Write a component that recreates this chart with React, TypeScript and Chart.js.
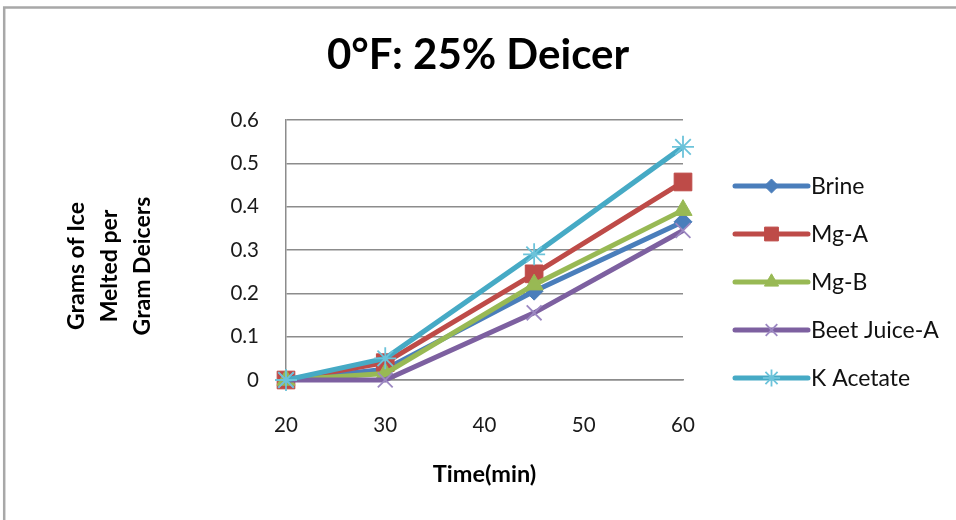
import React, { useEffect, useRef } from "react";
import { Chart, registerables } from "chart.js";
import { drawPoint } from "chart.js/helpers";

Chart.register(...registerables);

const timeMinutes = [20, 30, 45, 60];
const brine = [0, 0.025, 0.205, 0.365];
const mgA = [0, 0.04, 0.245, 0.457];
const mgB = [0, 0.015, 0.22, 0.392];
const beetJuiceA = [0, 0, 0.155, 0.345];
const kAcetate = [0, 0.05, 0.29, 0.538];

const seriesNames = ["Brine", "Mg-A", "Mg-B", "Beet Juice-A", "K Acetate"];
const seriesValues = [brine, mgA, mgB, beetJuiceA, kAcetate];
const seriesColors = ["#4A7EBB", "#BE4B48", "#98B954", "#7D60A0", "#46AAC5"];
const markerColors = ["#4A7EBB", "#BE4B48", "#98B954", "#9C88C2", "#6CC3DA"];
const markerStyles = ["rectRot", "rect", "triangle", "crossRot", "star"];
const markerRadii = [9, 12.5, 10.5, 10.5, 11];

const yTicks = [0, 0.1, 0.2, 0.3, 0.4, 0.5, 0.6];
const yTickLabels = ["0", "0.1", "0.2", "0.3", "0.4", "0.5", "0.6"];
const xTicks = [20, 30, 40, 50, 60];
const xTickLabels = ["20", "30", "40", "50", "60"];

const chartTitle = "0\u00B0F: 25% Deicer";
const xTitle = "Time(min)";
const yTitle = ["Grams of Ice", "Melted per", "Gram Deicers"];

const FONT = "Lato";

const borderPlugin = {
  id: "outerBorder",
  beforeDraw(chart: any) {
    const ctx = chart.ctx;
    ctx.save();
    ctx.fillStyle = "#ffffff";
    ctx.fillRect(0, 0, chart.width, chart.height);
    ctx.strokeStyle = "#a8a8a8";
    ctx.lineWidth = 2.5;
    ctx.strokeRect(4.2, 7.5, chart.width + 20, chart.height + 20);
    ctx.restore();
  },
};

const yTitlePlugin = {
  id: "yTitleBlock",
  afterDraw(chart: any) {
    const ctx = chart.ctx;
    const xs = [77, 110, 143];
    const cy = 266;
    ctx.save();
    ctx.fillStyle = "#000000";
    ctx.font = `bold 23px ${FONT}`;
    ctx.textAlign = "center";
    ctx.textBaseline = "middle";
    yTitle.forEach((line, i) => {
      ctx.save();
      ctx.translate(xs[i], cy);
      ctx.rotate(-Math.PI / 2);
      ctx.fillText(line, 0, 0);
      ctx.restore();
    });
    ctx.restore();
  },
};

const legendPlugin = {
  id: "lineLegend",
  afterDraw(chart: any) {
    const ctx = chart.ctx;
    const x0 = 735;
    const x1 = 808;
    const textX = 811;
    const yStart = 186;
    const step = 48;
    ctx.save();
    chart.data.datasets.forEach((ds: any, i: number) => {
      const y = yStart + i * step;
      ctx.strokeStyle = ds.borderColor;
      ctx.lineWidth = ds.borderWidth;
      ctx.lineCap = "round";
      ctx.beginPath();
      ctx.moveTo(x0, y);
      ctx.lineTo(x1, y);
      ctx.stroke();
      ctx.lineCap = "butt";
      ctx.fillStyle = ds.pointBackgroundColor;
      ctx.strokeStyle = ds.pointBorderColor;
      ctx.lineWidth = ds.pointBorderWidth;
      drawPoint(
        ctx,
        {
          pointStyle: ds.pointStyle,
          radius: ds.pointRadius * 0.78,
          rotation: 0,
          borderWidth: ds.pointBorderWidth,
        } as any,
        (x0 + x1) / 2,
        y
      );
      ctx.fillStyle = "#111111";
      ctx.font = `23px ${FONT}`;
      ctx.textBaseline = "middle";
      ctx.textAlign = "left";
      ctx.fillText(ds.label, textX, y + 1);
    });
    ctx.restore();
  },
};

export default function App() {
  const canvasRef = useRef<HTMLCanvasElement | null>(null);

  useEffect(() => {
    const canvas = canvasRef.current;
    if (!canvas) return;
    const datasets = seriesNames.map((name, i) => ({
      label: name,
      data: timeMinutes.map((t, j) => ({ x: t, y: seriesValues[i][j] })),
      borderColor: seriesColors[i],
      backgroundColor: seriesColors[i],
      borderWidth: 5,
      pointStyle: markerStyles[i],
      pointRadius: markerRadii[i],
      pointBackgroundColor: markerColors[i],
      pointBorderColor: markerColors[i],
      pointBorderWidth: i >= 3 ? 1.8 : 1,
      tension: 0,
      clip: false,
      order: seriesNames.length - i,
    }));

    const chart = new Chart(canvas, {
      type: "line",
      data: { datasets } as any,
      plugins: [borderPlugin, yTitlePlugin, legendPlugin],
      options: {
        animation: false,
        responsive: false,
        maintainAspectRatio: false,
        layout: { padding: 0 },
        plugins: {
          legend: { display: false },
          tooltip: { enabled: false },
          title: {
            display: true,
            text: chartTitle,
            color: "#000000",
            font: { family: FONT, size: 42, weight: "bold", lineHeight: 1.2 },
            padding: { top: 30, bottom: 39.6 },
          },
        },
        scales: {
          x: {
            type: "linear",
            min: 20,
            max: 60,
            afterBuildTicks(scale: any) {
              scale.ticks = xTicks.map((v) => ({ value: v }));
            },
            afterFit(scale: any) {
              scale.height = 140;
            },
            grid: { display: false, drawTicks: false },
            border: { display: true, color: "#8c8c8c", width: 1.5 },
            ticks: {
              padding: 33,
              color: "#1a1a1a",
              font: { family: FONT, size: 20.5 },
              callback: (v: any) => {
                const k = xTicks.indexOf(Number(v));
                return k >= 0 ? xTickLabels[k] : "";
              },
            },
            title: {
              display: true,
              text: xTitle,
              color: "#000000",
              font: { family: FONT, size: 23.5, weight: "bold", lineHeight: 1.2 },
              padding: { top: 0, bottom: 31 },
            },
          },
          y: {
            type: "linear",
            min: 0,
            max: 0.6,
            afterBuildTicks(scale: any) {
              scale.ticks = yTicks.map((v) => ({ value: v }));
            },
            afterFit(scale: any) {
              scale.width = 286;
            },
            grid: { color: "#8c8c8c", lineWidth: 1.5, drawTicks: false },
            border: { display: true, color: "#8c8c8c", width: 1.5 },
            ticks: {
              padding: 27,
              color: "#1a1a1a",
              font: { family: FONT, size: 20.5 },
              callback: (v: any) => {
                const k = yTicks.findIndex((t) => Math.abs(t - Number(v)) < 1e-9);
                return k >= 0 ? yTickLabels[k] : "";
              },
            },
            title: { display: false },
          },
          legendSpace: {
            type: "linear",
            position: "right",
            display: true,
            afterFit(scale: any) {
              scale.width = 273;
            },
            grid: { display: false, drawTicks: false },
            border: { display: false },
            ticks: { display: false },
            title: { display: false },
          },
        },
      } as any,
    });
    return () => chart.destroy();
  }, []);

  return (
    <div style={{ position: "absolute", left: 0, top: 0, width: 956, height: 520, overflow: "hidden", background: "#fff" }}>
      <canvas ref={canvasRef} width={956} height={520} style={{ display: "block", width: 956, height: 520 }} />
    </div>
  );
}
